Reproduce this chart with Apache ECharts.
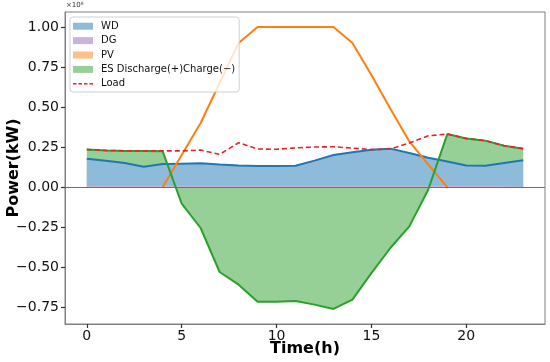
<!DOCTYPE html>
<html>
<head>
<meta charset="utf-8">
<script src="https://cdn.jsdelivr.net/npm/echarts@6/dist/echarts.min.js"></script>
<style>
  html, body { margin: 0; padding: 0; background: #fff; }
  #chart { width: 550px; height: 362px; }
</style>
</head>
<body>
<div id="chart"></div>
<script>
// ---- data (values in units of 10^6 kW) ----
const hours = [0,1,2,3,4,5,6,7,8,9,10,11,12,13,14,15,16,17,18,19,20,21,22,23];
const WD   = [0.177,0.164,0.150,0.127,0.144,0.146,0.148,0.141,0.135,0.131,0.131,0.133,0.165,0.200,0.217,0.233,0.240,0.213,0.183,0.160,0.135,0.133,0.150,0.167];
const DG   = [0.007,0.007,0.007,0.007,0.007,0.007,0.007,0.007,0.007,0.007,0.007,0.007,0.007,0.007,0.007,0.007,0.007,0.007,0.007,0.007,0.007,0.007,0.007,0.007];
const PV   = [null,null,null,null,0,0.20,0.40,0.65,0.90,1.00,1.00,1.00,1.00,1.00,0.90,0.70,0.49,0.285,0.14,0,null,null,null,null];
const ES   = [0.235,0.228,0.226,0.225,0.223,-0.104,-0.256,-0.531,-0.610,-0.717,-0.717,-0.712,-0.735,-0.762,-0.704,-0.538,-0.381,-0.246,-0.015,0.331,0.304,0.290,0.258,0.240];
const Load = [0.235,0.229,0.227,0.227,0.226,0.226,0.231,0.204,0.277,0.238,0.236,0.245,0.250,0.252,0.243,0.234,0.238,0.275,0.320,0.331,0.304,0.290,0.258,0.240];
const xTicks = [0,5,10,15,20];
const yTicks = [-0.75,-0.5,-0.25,0,0.25,0.5,0.75,1.0];
const names = ['WD','DG','PV','ES Discharge(+)Charge(\u2212)','Load'];

const X_MIN = -1.15, X_MAX = 24.15, Y_MIN = -0.856, Y_MAX = 1.094;
const pairs = arr => hours.map((h,i) => [h, arr[i]]);
const FONT = 'DejaVu Sans';

const chart = echarts.init(document.getElementById('chart'), null, {renderer: 'canvas'});
chart.setOption({
  animation: false,
  backgroundColor: '#fff',
  textStyle: { fontFamily: FONT },
  grid: { left: 65, right: 5, top: 12, bottom: 38, show: true, borderColor: '#808080', borderWidth: 1, backgroundColor: 'transparent', containLabel: false, outerBoundsMode: 'none' },
  graphic: [{ type: 'text', left: 66, top: 2, style: { text: '\u00d710\u2076', fontSize: 7, fill: '#333', fontFamily: FONT } }],
  legend: {
    orient: 'vertical', left: 70, top: 17,
    padding: [2, 4, 1, 3],
    itemWidth: 20, itemHeight: 7, itemGap: 0,
    backgroundColor: 'rgba(255,255,255,0.8)', borderColor: '#d0d0d0', borderWidth: 1, borderRadius: 3,
    itemStyle: { borderWidth: 0 },
    textStyle: { fontFamily: FONT, fontSize: 10, color: '#111', lineHeight: 14.4, padding: [0,0,0,3] },
    selectedMode: false,
    data: [
      { name: names[0], icon: 'rect', itemStyle: { color: '#8fbbda', borderWidth: 0 } },
      { name: names[1], icon: 'rect', itemStyle: { color: '#cab3de', borderWidth: 0 } },
      { name: names[2], icon: 'rect', itemStyle: { color: '#ffbf87', borderWidth: 0 } },
      { name: names[3], icon: 'rect', itemStyle: { color: '#96d096', borderWidth: 0 } },
      { name: names[4], icon: 'path://M0,0h3.5v1.6h-3.5z M5.5,0h3.5v1.6h-3.5z M11,0h3.5v1.6h-3.5z M16.5,0h3.5v1.6h-3.5z', itemStyle: { color: '#e8222a', borderWidth: 0 } }
    ]
  },
  xAxis: {
    type: 'value', min: X_MIN, max: X_MAX, position: 'bottom',
    name: 'Time(h)', nameLocation: 'middle', nameGap: 17, nameMoveOverlap: false,
    nameTextStyle: { fontFamily: FONT, fontSize: 16, fontWeight: 'bold', color: '#000' },
    axisLine: { show: true, onZero: false, lineStyle: { color: '#808080', width: 1 } },
    splitLine: { show: false },
    axisTick: { show: true, length: 4, inside: false, customValues: xTicks, lineStyle: { color: '#333', width: 1.2 } },
    axisLabel: { customValues: xTicks, margin: 5, fontSize: 14, color: '#111', fontFamily: FONT }
  },
  yAxis: {
    type: 'value', min: Y_MIN, max: Y_MAX, position: 'left',
    name: 'Power(kW)', nameLocation: 'middle', nameGap: 43, nameRotate: 90, nameMoveOverlap: false,
    nameTextStyle: { fontFamily: FONT, fontSize: 16, fontWeight: 'bold', color: '#000' },
    axisLine: { show: true, onZero: false, lineStyle: { color: '#808080', width: 1 } },
    splitLine: { show: false },
    axisTick: { show: true, length: 4, inside: false, customValues: yTicks, lineStyle: { color: '#333', width: 1.2 } },
    axisLabel: { customValues: yTicks, margin: 6, fontSize: 14, color: '#111', fontFamily: FONT,
      formatter: v => v.toFixed(2).replace('-', '\u2212') }
  },
  series: [
    { name: names[3], type: 'line', data: pairs(ES), symbol: 'none', silent: true,
      lineStyle: { width: 0, opacity: 0 }, itemStyle: { color: '#96d096' },
      areaStyle: { color: '#96d096', opacity: 1, origin: 0 } },
    { name: names[0], type: 'line', data: pairs(WD), symbol: 'none', silent: true,
      lineStyle: { color: '#1f77b4', width: 2 }, itemStyle: { color: '#8fbbda' },
      areaStyle: { color: '#8fbbda', opacity: 1, origin: 0 } },
    { name: names[1], type: 'line', data: pairs(DG), symbol: 'none', silent: true,
      lineStyle: { width: 0, opacity: 0 }, itemStyle: { color: '#cab3de' },
      areaStyle: { color: '#cab3de', opacity: 1, origin: 0 },
      markLine: { silent: true, symbol: 'none', label: { show: false },
        lineStyle: { color: '#6e6e6e', width: 1.2, type: 'solid' }, data: [{ yAxis: 0 }] } },
    { name: names[2], type: 'line', data: pairs(PV), symbol: 'none', silent: true, connectNulls: false,
      lineStyle: { color: '#ff7f0e', width: 2 }, itemStyle: { color: '#ffbf87' } },
    { name: names[3], type: 'line', data: pairs(ES), symbol: 'none', silent: true,
      lineStyle: { color: '#2ca02c', width: 2 }, itemStyle: { color: '#96d096' } },
    { name: names[4], type: 'line', data: pairs(Load), symbol: 'none', silent: true,
      lineStyle: { color: '#e8222a', width: 1.6, type: [5, 3] }, itemStyle: { color: '#e8222a' } }
  ]
});
</script>
</body>
</html>
